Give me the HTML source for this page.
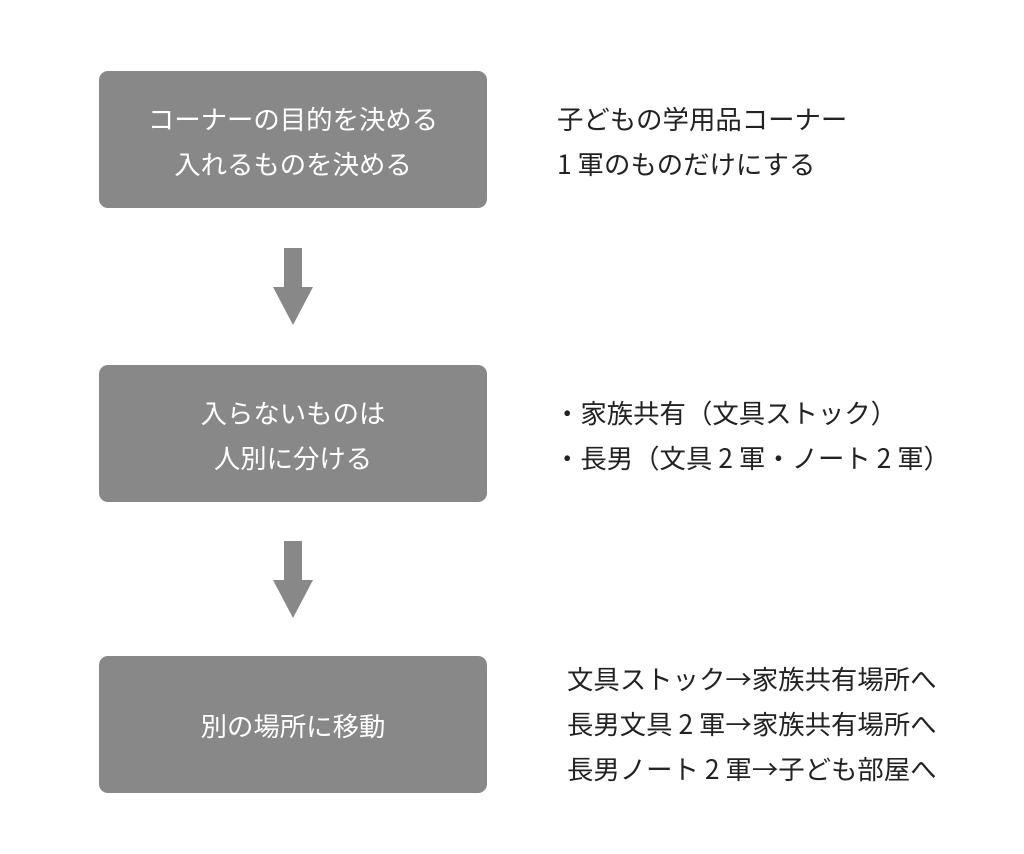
<!DOCTYPE html>
<html><head><meta charset="utf-8"><style>
body{margin:0;width:1024px;height:854px;background:#fff;position:relative;font-family:"Noto Sans CJK JP","Liberation Sans",sans-serif;overflow:hidden}
.b{position:absolute;left:99px;width:388px;height:137px;background:#888;border-radius:9px;color:#fff;font-size:26.4px;display:flex;flex-direction:column;justify-content:center;align-items:center;line-height:45px}
.t{position:absolute;font-size:26.4px;color:#222;line-height:45px;white-space:nowrap}
svg{position:absolute;left:0;top:0}
</style></head><body>
<div class="b" style="top:71px"><div>コーナーの目的を決める</div><div>入れるものを決める</div></div>
<div class="b" style="top:365px"><div>入らないものは</div><div>人別に分ける</div></div>
<div class="b" style="top:656px"><div>別の場所に移動</div></div>
<svg width="1024" height="854">
<polygon points="284,248 302,248 302,287 313,287 293,325 273,287 284,287" fill="#888"/>
<polygon points="284,541 302,541 302,580 313,580 293,618 273,580 284,580" fill="#888"/>
</svg>
<div class="t" style="left:557px;top:95px">子どもの学用品コーナー<br>1 軍のものだけにする</div>
<div class="t" style="left:554px;top:389px">・家族共有（文具ストック）<br>・長男（文具 2 軍・ノート 2 軍）</div>
<div class="t" style="left:567px;top:655px">文具ストック→家族共有場所へ<br>長男文具 2 軍→家族共有場所へ<br>長男ノート 2 軍→子ども部屋へ</div>
</body></html>
